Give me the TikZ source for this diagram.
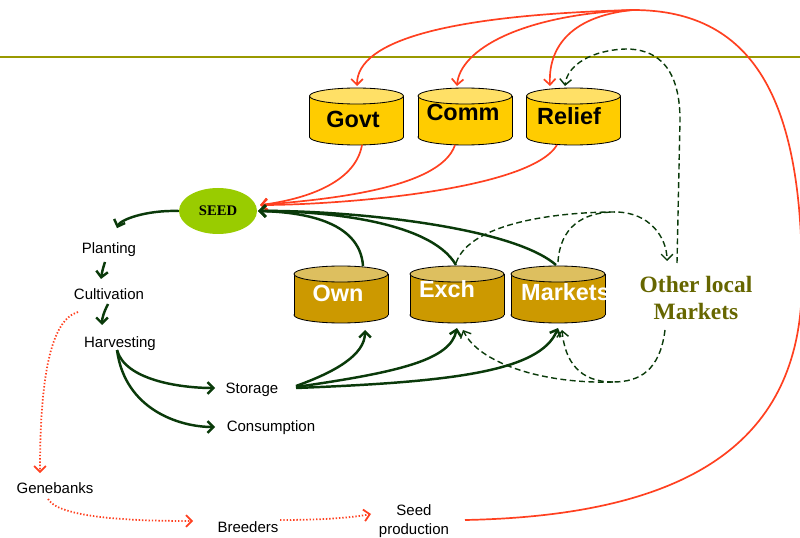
\documentclass[tikz,border=0pt]{standalone}
\usepackage{fontspec}
\setmainfont{Liberation Sans}
\newfontfamily\serifb{Liberation Serif}
\usetikzlibrary{arrows.meta,calc,shapes.geometric}
\definecolor{rline}{HTML}{FF4020}
\definecolor{gline}{HTML}{0A3A0A}
\definecolor{olv}{HTML}{999900}
\definecolor{goldb}{HTML}{FFCC00}
\definecolor{goldt}{HTML}{FFE066}
\definecolor{darkb}{HTML}{CC9900}
\definecolor{darkt}{HTML}{DDBF5F}
\definecolor{seedf}{HTML}{99CC00}
\definecolor{oltxt}{HTML}{666600}
\newcommand\mycyl[6]{%
  \filldraw[fill=#5,draw=black,line width=0.7pt] (#2,#4) ellipse [x radius=47,y radius=8];
  \fill[#5] ({#2-47},#3) rectangle ({#2+47},#4);
  \draw[line width=0.7pt] ({#2-47},#3) -- ({#2-47},#4) ({#2+47},#3) -- ({#2+47},#4);
  \filldraw[fill=#6,draw=black,line width=0.7pt] (#2,#3) ellipse [x radius=47,y radius=8];
  \coordinate (#1) at (#2,{(#3+#4)/2});
}
\begin{document}
\begin{tikzpicture}[x=0.03cm,y=-0.03cm,
  lab/.style={font=\fontsize{12.8}{14}\selectfont, inner sep=0, anchor=base},
  cyllab/.style={font=\fontsize{20}{22}\selectfont\bfseries, inner sep=0, anchor=base},
  arr/.style={-{Straight Barb[length=5pt,width=10pt]}},
  rarrow/.style={draw=rline,line width=1.45pt},
  gsolid/.style={draw=gline,line width=2.1pt},
  gdash/.style={draw=gline,line width=1.2pt,dash pattern=on 5pt off 3pt},
  rdot/.style={draw=rline,line width=1.5pt,dash pattern=on 1.2pt off 1.6pt}
]
\useasboundingbox (0,0) rectangle (800,538);
\clip (0,0) rectangle (800,538);
\draw[olv,line width=2pt] (0,57) -- (800,57);

% cylinders
\mycyl{govt}{356.5}{96}{137}{goldb}{goldt}
\mycyl{comm}{465}{96}{137}{goldb}{goldt}
\mycyl{relief}{573.5}{96}{137}{goldb}{goldt}
\mycyl{own}{341}{274}{315}{darkb}{darkt}
\mycyl{exch}{457}{274}{315}{darkb}{darkt}
\mycyl{mkts}{558}{274}{315}{darkb}{darkt}

\node[cyllab] (tgovt) at (353,128) {Govt};
\node[cyllab] (tcomm) at (463,121) {Comm};
\node[cyllab] (trelief) at (569,125) {Relief};
\node[cyllab,text=white] (town) at (338,302) {Own};
\node[cyllab,text=white] (texch) at (447,298) {Exch};
\begin{scope}
\clip (511,260) rectangle (605,330);
\node[cyllab,text=white,anchor=base west] (tmkts) at (521,301) {Markets};
\end{scope}

% seed
\node[ellipse,fill=seedf,minimum width=78*0.03cm,minimum height=46*0.03cm,inner sep=0,
  font=\serifb\bfseries\fontsize{12.5}{14}\selectfont] (seed) at (218,211) {SEED};

% labels
\node[lab] (plant) at (109,254) {Planting};
\node[lab] (cult) at (109,300) {Cultivation};
\node[lab] (harv) at (120,347) {Harvesting};
\node[lab] (stor) at (252,393) {Storage};
\node[lab] (cons) at (271,431) {Consumption};
\node[lab] (gene) at (55,493) {Genebanks};
\node[lab] (breed) at (248,532) {Breeders};
\node[font=\fontsize{12.8}{16}\selectfont,align=center,inner sep=0] (sprod) at (414,521) {Seed\\production};
\node[font=\serifb\bfseries\fontsize{20}{23}\selectfont,text=oltxt,align=center,inner sep=0] (olm) at (696,298) {Other local\\Markets};

\coordinate (hub) at (633,10);
\coordinate (mtop) at (615,212);
\coordinate (mbot) at (613,382);

% red solid
\draw[rarrow,arr] (hub) .. controls (450,15) and (357,40) .. ($(govt)+(0.5,-30.5)$);
\draw[rarrow,arr] (hub) .. controls (520,15) and (460,50) .. ($(comm)+(-8,-30.5)$);
\draw[rarrow,arr] (hub) .. controls (580,15) and (548,40) .. ($(relief)+(-23.5,-30.5)$);
\draw[rarrow] ($(sprod)+(51,-1)$) .. controls (720,515) and (802,420) .. (802,280)
   .. controls (802,110) and (760,10) .. (hub);
\draw[rarrow,arr] ($(govt)+(5.5,28.5)$) .. controls (355,185) and (300,200) .. ($(seed.east)+(3,-6)$);
\draw[rarrow,arr] ($(comm)+(-10,28.5)$) .. controls (440,190) and (320,200) .. ($(seed.east)+(3,-6)$);
\draw[rarrow,arr] ($(relief)+(-16.5,28.5)$) .. controls (530,190) and (340,205) .. ($(seed.east)+(3,-6)$);

% green solid
\draw[gsolid,arr] ($(own)+(22,-28.5)$) .. controls (360,220) and (300,212) .. ($(seed.east)+(1,0)$);
\draw[gsolid,arr] ($(exch)+(-1,-29.5)$) .. controls (430,220) and (320,211) .. ($(seed.east)+(1,0)$);
\draw[gsolid,arr] ($(mkts)+(-2,-29.5)$) .. controls (510,225) and (340,210) .. ($(seed.east)+(1,0)$);
\draw[gsolid,arr] (seed.west) .. controls (145,210) and (120,220) .. ($(plant)+(8,-22)$);
\draw[gsolid,arr] ($(plant.base)+(-4,8)$) .. controls (103,268) and (102,272) .. ($(cult.base)+(-8,-21)$);
\draw[gsolid,arr] ($(cult.base)+(-1,4)$) .. controls (104,312) and (102,318) .. ($(harv.base)+(-18,-22)$);
\draw[gsolid,arr] ($(harv.base)+(-3,3)$) .. controls (125,380) and (180,388) .. ($(stor.base)+(-37,-5)$);
\draw[gsolid,arr] ($(harv.base)+(-3,3)$) .. controls (125,410) and (180,427) .. ($(cons.base)+(-56,-4)$);
\draw[gsolid,arr] ($(stor.base)+(44,-7)$) .. controls (335,372) and (365,355) .. ($(own)+(24,35.5)$);
\draw[gsolid,arr] ($(stor.base)+(44,-6)$) .. controls (400,372) and (450,360) .. ($(exch)+(0,33.5)$);
\draw[gsolid,arr] ($(stor.base)+(44,-5)$) .. controls (450,382) and (540,372) .. ($(mkts)+(0,33.5)$);

% green dashed
\draw[gdash,arr] ($(exch)+(-1,-31.5)$) .. controls (470,222) and (560,212) .. (mtop)
   .. controls (650,212) and (667,238) .. ($(olm)+(-29,-37)$);
\draw[gdash] ($(mkts)+(0,-32.5)$) .. controls (560,228) and (582,212) .. (mtop);
\draw[gdash,arr] ($(olm)+(-19,-35)$) -- (680,120) .. controls (680,62) and (652,49) .. (626,49)
   .. controls (592,50) and (567,65) .. ($(relief)+(-8.5,-30.5)$);
\draw[gdash] ($(olm)+(-31,32)$) .. controls (660,370) and (640,382) .. (mbot);
\draw[gdash,arr] (mbot) .. controls (540,384) and (478,362) .. ($(exch)+(6,35.5)$);
\draw[gdash,arr] (mbot) .. controls (580,382) and (565,362) .. ($(mkts)+(4,35.5)$);

% red dotted
\draw[rdot,arr] ($(cult.base)+(-31,12)$) .. controls (50,320) and (40,380) .. ($(gene.base)+(-15,-20)$);
\draw[rdot,arr] ($(gene.base)+(-7,6)$) .. controls (60,520) and (150,521) .. ($(breed.base)+(-55,-11)$);
\draw[rdot,arr] ($(breed.base)+(32,-12)$) .. controls (320,520) and (350,518) .. ($(sprod)+(-43,-7)$);
\end{tikzpicture}
\end{document}
